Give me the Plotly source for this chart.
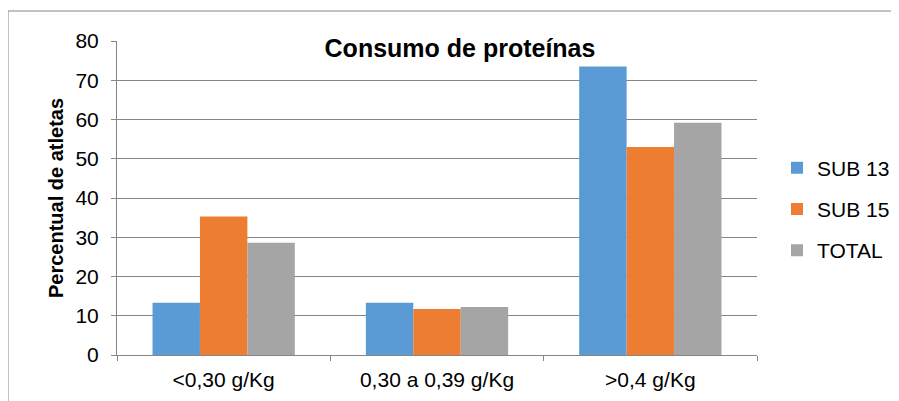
import plotly.graph_objects as go

categories = ["<0,30 g/Kg", "0,30 a 0,39 g/Kg", ">0,4 g/Kg"]
sub13 = [13.3, 13.3, 73.5]
sub15 = [35.3, 11.7, 53.0]
total = [28.6, 12.2, 59.2]
series_names = ["SUB 13", "SUB 15", "TOTAL"]
colors = ["#5B9BD5", "#ED7D31", "#A5A5A5"]

fig = go.Figure()
for name, vals, c in zip(series_names, [sub13, sub15, total], colors):
    fig.add_trace(go.Bar(x=categories, y=vals, name=name, legendgroup=name,
                         marker=dict(color=c, line=dict(width=0))))

# page body has an 8px margin, so figure coordinates are offset by 8px
OFF = 8
W, H = 899 - OFF, 401 - OFF
L, R, T, B = 117 - OFF, W - (757 - OFF), 41 - OFF, H - (355 - OFF)
pw, ph = W - L - R, H - T - B

fig.update_layout(
    width=W, height=H,
    margin=dict(l=L, r=R, t=T, b=B, autoexpand=False),
    paper_bgcolor="white", plot_bgcolor="white",
    font=dict(family="Liberation Sans, Arial", size=21, color="#000000"),
    barmode="group", bargap=0.333, bargroupgap=0,
    title=dict(text="<b>Consumo de proteínas</b>", x=(460 - OFF) / W, xanchor="center",
               y=1 - (48 - OFF) / H, yanchor="middle", font=dict(size=25)),
    legend=dict(x=(777 - L - OFF) / pw, y=(355 - 209) / ph, xanchor="left", yanchor="middle",
                font=dict(size=21), itemwidth=30, tracegroupgap=11, bgcolor="rgba(0,0,0,0)"),
    xaxis=dict(showline=True, linecolor="#868686", linewidth=1, ticks="outside", tickcolor="#868686",
               ticklen=5, tickson="boundaries", showgrid=False, tickfont=dict(size=21),
               ticklabelstandoff=6, automargin=False),
    yaxis=dict(range=[0, 80], dtick=10, showline=True, linecolor="#868686", linewidth=1,
               ticks="outside", tickcolor="#868686", ticklen=5, gridcolor="#868686", gridwidth=1,
               tickfont=dict(size=21), zeroline=False, ticklabelstandoff=8, automargin=False,
               title=dict(text="<b>Percentual de atletas</b>", font=dict(size=20), standoff=6)),
)

fig.add_shape(type="rect", xref="paper", yref="paper",
              x0=(8 - OFF - L) / pw, x1=1.5, y0=-0.5, y1=(355 - 11) / ph,
              line=dict(color="#868686", width=1), fillcolor="rgba(0,0,0,0)", layer="below")

fig.write_html("out.html")
